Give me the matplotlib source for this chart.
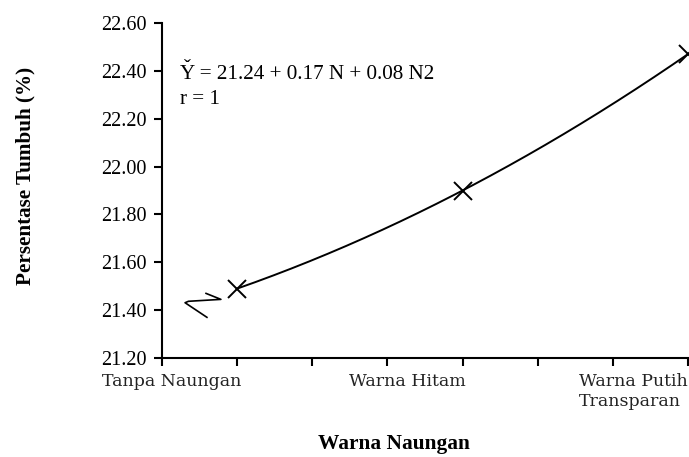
import numpy as np
import matplotlib
matplotlib.use("Agg")
import matplotlib.pyplot as plt

# data
naungan = ["Tanpa Naungan", "Warna Hitam", "Warna Putih\nTransparan"]
N = [1, 2, 3]
persen = [21.49, 21.90, 22.47]
y_ticks = [21.20, 21.40, 21.60, 21.80, 22.00, 22.20, 22.40, 22.60]
# stray pen scribble next to the first point
coret_x = [0.862, 0.928, 0.784, 0.769, 0.866]
coret_y = [21.470, 21.445, 21.437, 21.431, 21.370]

plt.rcParams['font.family'] = ['Liberation Serif', 'DejaVu Serif']

fig = plt.figure(figsize=(6.89, 4.57), dpi=100)
W, H = 689, 457
# axes from the left spine (x px 162) to the picture edge, 21.20 at 358 px, 22.60 at 23 px
ax = fig.add_axes([162 / W, 1 - 358 / H, (689 - 162) / W, (358 - 23) / H])

# quadratic trendline, same as the fitted equation
koef = np.polyfit(N, persen, 2)
xs = np.linspace(N[0], N[-1], 200)
ax.plot(xs, np.polyval(koef, xs), color='black', lw=1.4, clip_on=False)
ax.plot(N, persen, linestyle='none', marker='x', ms=13, mew=1.4,
        color='black', clip_on=False)
ax.plot(coret_x, coret_y, color='black', lw=1.2)

ax.set_xlim(2 / 3, 3 + 1 / 225)
ax.set_ylim(21.2, 22.6)

for s in ['top', 'right']:
    ax.spines[s].set_visible(False)
for s in ['left', 'bottom']:
    ax.spines[s].set_linewidth(1.5)

ax.set_yticks(y_ticks)
ax.set_yticklabels([f"{v:.2f}" for v in y_ticks], fontsize=14.6)
ax.set_xticks(np.arange(2 / 3, 3.01, 1 / 3))
ax.set_xticklabels([])
ax.tick_params(axis='both', direction='out', length=6, width=1.5, color='black')
ax.tick_params(axis='y', pad=5)

geser = [0.02, 0.015, -0.002]
for n, lab, g in zip(N, naungan, geser):
    ax.text(n + g, -0.045, lab, transform=ax.get_xaxis_transform(),
            ha='right', va='top', ma='left', fontsize=12.5,
            family='DejaVu Serif', color='#222222', linespacing=1.25)

fig.text(180 / W, 1 - 79 / H, "Y = 21.24 + 0.17 N + 0.08 N2",
         fontsize=15.2, va='baseline')
fig.text(187.5 / W, 1 - 74 / H, "\u02c7", fontsize=15.2, ha='center', va='baseline')
fig.text(180 / W, 1 - 104 / H, "r = 1", fontsize=15.2, va='baseline')

fig.text(394 / W, 1 - 444 / H, "Warna Naungan", fontsize=15.4,
         fontweight='bold', ha='center', va='center')
fig.text(25 / W, 1 - 176 / H, "Persentase Tumbuh (%)", fontsize=15.2,
         fontweight='bold', ha='center', va='center', rotation=90)

fig.savefig("out.png", dpi=100)
